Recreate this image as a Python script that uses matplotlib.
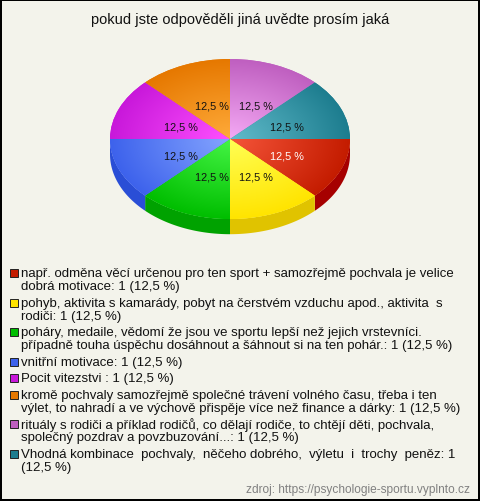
import numpy as np
import matplotlib
matplotlib.use("Agg")
import matplotlib.pyplot as plt
from matplotlib.colors import to_rgb
from matplotlib.patches import Rectangle
from matplotlib.transforms import ScaledTranslation

plt.rcParams["font.family"] = ["Liberation Sans", "DejaVu Sans"]

title = "pokud jste odpověděli jiná uvědte prosím jaká"
source = "zdroj: https://psychologie-sportu.vyplnto.cz"

answers = [
    "např. odměna věcí určenou pro ten sport + samozřejmě pochvala je velice\ndobrá motivace",
    "pohyb, aktivita s kamarády, pobyt na čerstvém vzduchu apod., aktivita  s\nrodiči",
    "poháry, medaile, vědomí že jsou ve sportu lepší než jejich vrstevníci.\npřípadně touha úspěchu dosáhnout a šáhnout si na ten pohár.",
    "vnitřní motivace",
    "Pocit vitezstvi ",
    "kromě pochvaly samozřejmě společné trávení volného času, třeba i ten\nvýlet, to nahradí a ve výchově přispěje více než finance a dárky",
    "rituály s rodiči a příklad rodičů, co dělají rodiče, to chtějí děti, pochvala,\nspolečný pozdrav a povzbuzování...",
    "Vhodná kombinace  pochvaly,  něčeho dobrého,  výletu  i  trochy  peněz",
]
counts = [1, 1, 1, 1, 1, 1, 1, 1]
pct_on_new_line = [False, False, False, False, False, False, False, True]

inner_colors = ["#f5553a", "#ffff55", "#45f545", "#85a5ff", "#ff50ff", "#ffab3a", "#f5aaf5", "#62bccb"]
outer_colors = ["#c41c00", "#ffe400", "#00be00", "#3d62ec", "#c818da", "#e67800", "#bf5fc0", "#1d7d8f"]
side_colors = ["#a60000", "#e0c300", "#00a200", "#2a4ed6", "#a000b0", "#c06000", "#9a4a9a", "#186a78"]
legend_colors = ["#c41c00", "#ffe400", "#00be00", "#3d62ec", "#c818da", "#e67800", "#bf5fc0", "#1d7d8f"]

bg_color = "#f3f3eb"
depth = 0.19

fig = plt.figure(figsize=(4.8, 5.02), dpi=100, facecolor=bg_color,
                 edgecolor="black", linewidth=1.5)

# full-figure overlay in pixel units for title, legend and frame
bg = fig.add_axes([0, 0, 1, 1])
bg.set_xlim(0, 480)
bg.set_ylim(502, 0)
bg.axis("off")
bg.text(240, 20, title, ha="center", va="center", fontsize=10.5, color="#111111")

# pie: top ellipse 240x160 px, side depth below it
ax = fig.add_axes([110 / 480, (502 - 236) / 502, 240 / 480, 176 / 502])
total = sum(counts)


def fmt_pct(p):
    return f"{p:.1f} %".replace(".", ",")


wedges, _, autotexts = ax.pie(
    counts,
    colors=outer_colors,
    startangle=0,
    counterclock=False,
    autopct=fmt_pct,
    pctdistance=0.48,
    wedgeprops={"linewidth": 0},
    textprops={"fontsize": 7.8, "color": "#111111"},
)
ax.axis("off")

# side walls for the front half
for w, sc in zip(wedges, side_colors):
    th = np.radians(np.linspace(w.theta1, w.theta2, 200))
    th = th[np.sin(th) <= 0]
    if len(th) < 2:
        continue
    xs = np.concatenate([np.cos(th), np.cos(th[::-1])])
    ys = np.concatenate([np.sin(th), np.sin(th[::-1]) - depth])
    ax.fill(xs, ys, color=sc, lw=0, zorder=0.5)

# radial gradient on every wedge top
gx, gy = np.meshgrid(np.linspace(-1, 1, 300), np.linspace(-1, 1, 300))
rr = np.clip(np.hypot(gx, gy), 0, 1)[..., None]
for w, ci, co in zip(wedges, inner_colors, outer_colors):
    img = np.array(to_rgb(ci)) * (1 - rr) + np.array(to_rgb(co)) * rr
    im = ax.imshow(img, extent=(-1, 1, -1, 1), origin="lower", zorder=1.5, interpolation="bilinear")
    im.set_clip_path(w)
ax.set_aspect("auto")
ax.set_xlim(-1, 1)
ax.set_ylim(-1 - depth - 0.01, 1)

shift = ScaledTranslation(4 / 100, -2 / 100, fig.dpi_scale_trans)
for t in autotexts:
    t.set_transform(t.get_transform() + shift)
    t.set_zorder(3)
autotexts[0].set_color("white")

# legend
y = 274
line_h = 13.2
gap = 3.2
for ans, c, col, brk in zip(answers, counts, legend_colors, pct_on_new_line):
    pct = fmt_pct(100 * c / total)
    entry = f"{ans}: {c}" + ("\n" if brk else " ") + f"({pct})"
    bg.add_patch(Rectangle((10, y - 4), 8, 8, facecolor=col, edgecolor="#222222", lw=0.7))
    for line in entry.split("\n"):
        bg.text(21, y, line, ha="left", va="center", fontsize=9.5, color="#111111")
        y += line_h
    y += gap

bg.text(470, 490, source, ha="right", va="center", fontsize=8.6, color="#808080")

fig.savefig("out.png", dpi=100, facecolor=bg_color, edgecolor="black")
